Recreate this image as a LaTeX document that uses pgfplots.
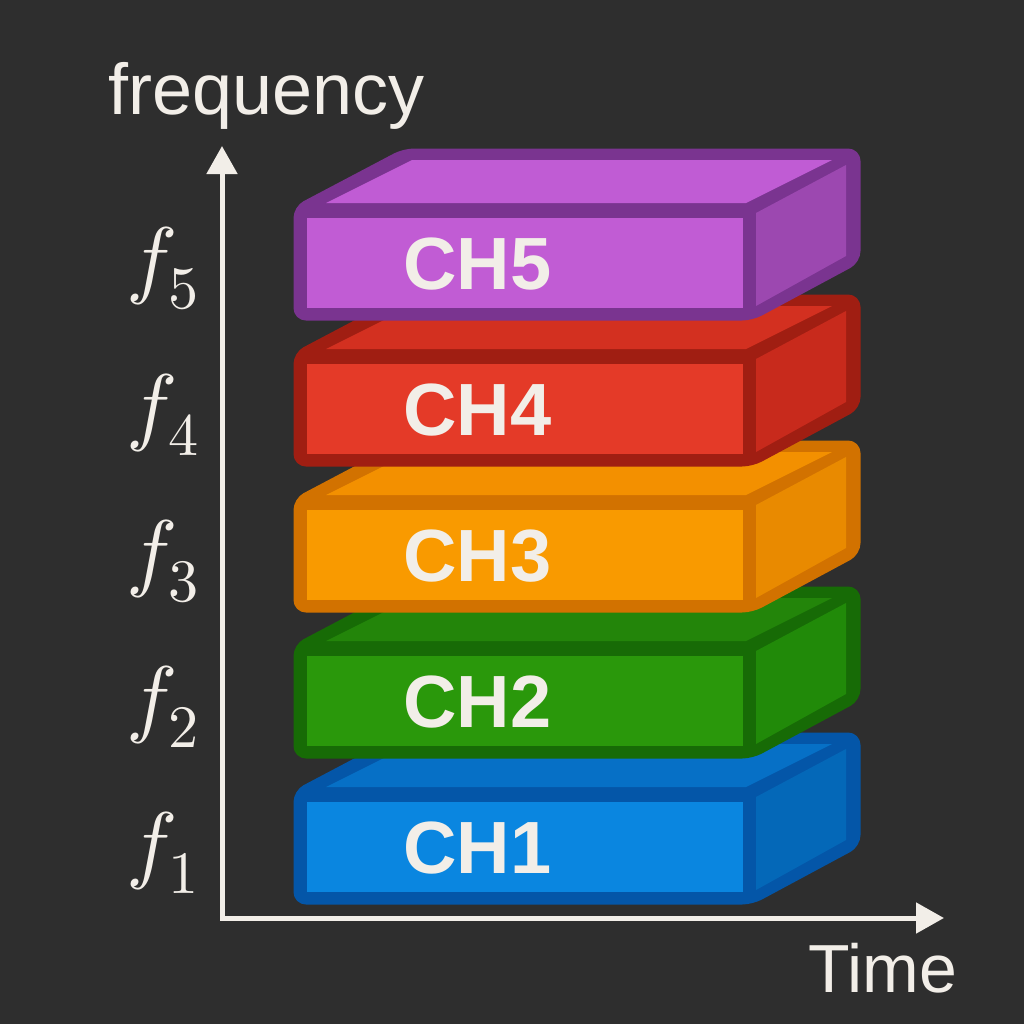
\documentclass[border=0pt]{standalone}
\usepackage{pgfplots}
\pgfplotsset{compat=1.18}
\usepackage{fontspec}
\setmainfont{Liberation Sans}
\usetikzlibrary{arrows.meta}
\DeclareFontShape{OML}{cmm}{m}{it}{<->cmmi10}{}
\DeclareFontShape{OT1}{cmr}{m}{n}{<->cmr10}{}
\definecolor{bg}{HTML}{2E2E2E}
\definecolor{ink}{HTML}{F2EEE8}
% CH1
\definecolor{bA}{HTML}{0456A8}\definecolor{fA}{HTML}{0A86E0}\definecolor{tA}{HTML}{0670C6}\definecolor{rA}{HTML}{0468B8}
% CH2
\definecolor{bB}{HTML}{176B06}\definecolor{fB}{HTML}{2A980B}\definecolor{tB}{HTML}{23850A}\definecolor{rB}{HTML}{218A09}
% CH3
\definecolor{bC}{HTML}{D27200}\definecolor{fC}{HTML}{F99A00}\definecolor{tC}{HTML}{F39000}\definecolor{rC}{HTML}{E98A00}
% CH4
\definecolor{bD}{HTML}{A01E12}\definecolor{fD}{HTML}{E43A28}\definecolor{tD}{HTML}{D33020}\definecolor{rD}{HTML}{C82A1C}
% CH5
\definecolor{bE}{HTML}{7A3490}\definecolor{fE}{HTML}{C15CD4}\definecolor{tE}{HTML}{C05CD4}\definecolor{rE}{HTML}{9C48B0}

\newcommand\chbox[5]{%
  \addplot[fill=#2, draw=#2, line width=2.5pt, line join=round, rounded corners=5pt,
    y filter/.expression={y+#1}]
    coordinates {(296,110) (296,0) (404,-57) (858,-57) (858,53) (752,110)} -- cycle;
  \addplot[fill=#3, draw=none, y filter/.expression={y+#1}]
    coordinates {(307,10) (743,10) (743,100) (307,100)} -- cycle;
  \addplot[fill=#4, draw=none, y filter/.expression={y+#1}]
    coordinates {(326,-5) (746,-5) (832,-48) (412,-48)} -- cycle;
  \addplot[fill=#5, draw=none, y filter/.expression={y+#1}]
    coordinates {(756,5) (846,-43) (846,48) (756,98)} -- cycle;
}

\begin{document}
\begin{tikzpicture}
\begin{axis}[
  x=0.5pt, y=0.5pt, scale only axis,
  xmin=0, xmax=1024, ymin=0, ymax=1024,
  y dir=reverse, hide axis, clip=false]
  \addplot[fill=bg, draw=none] coordinates {(0,0) (1024,0) (1024,1024) (0,1024)} -- cycle;

  % boxes, bottom first
  \chbox{792}{bA}{fA}{tA}{rA}
  \chbox{646}{bB}{fB}{tB}{rB}
  \chbox{500}{bC}{fC}{tC}{rC}
  \chbox{354}{bD}{fD}{tD}{rD}
  \chbox{208}{bE}{fE}{tE}{rE}

  \foreach \yy/\lab in {848/CH1, 702/CH2, 556/CH3, 410/CH4, 264/CH5}{
    \edef\tmp{\noexpand\node[anchor=west, text=ink, font=\noexpand\fontsize{37pt}{40pt}\noexpand\selectfont\noexpand\bfseries, inner sep=0pt] at (axis cs:403,\yy) {\lab};}
    \tmp
  }

  % axes
  \draw[ink, line width=2.5pt, -{Triangle[length=14pt, width=15pt]}] (axis cs:222,920) -- (axis cs:222,146);
  \draw[ink, line width=2.5pt, -{Triangle[length=14pt, width=15pt]}] (axis cs:220,918) -- (axis cs:944,918);

  \node[anchor=base west, text=ink, font=\fontsize{36pt}{40pt}\selectfont, inner sep=0pt] at (axis cs:108,114) {frequency};
  \node[anchor=base west, text=ink, font=\fontsize{34pt}{38pt}\selectfont, inner sep=0pt] at (axis cs:808,992) {Time};

  \foreach \yy/\k in {853/1, 707/2, 561/3, 415/4, 268/5}{
    \edef\tmp{\noexpand\node[text=ink, font=\noexpand\fontsize{43pt}{48pt}\noexpand\selectfont, inner sep=0pt] at (axis cs:163,\yy) {$f_{\k}$};}
    \tmp
  }
\end{axis}
\end{tikzpicture}
\end{document}
